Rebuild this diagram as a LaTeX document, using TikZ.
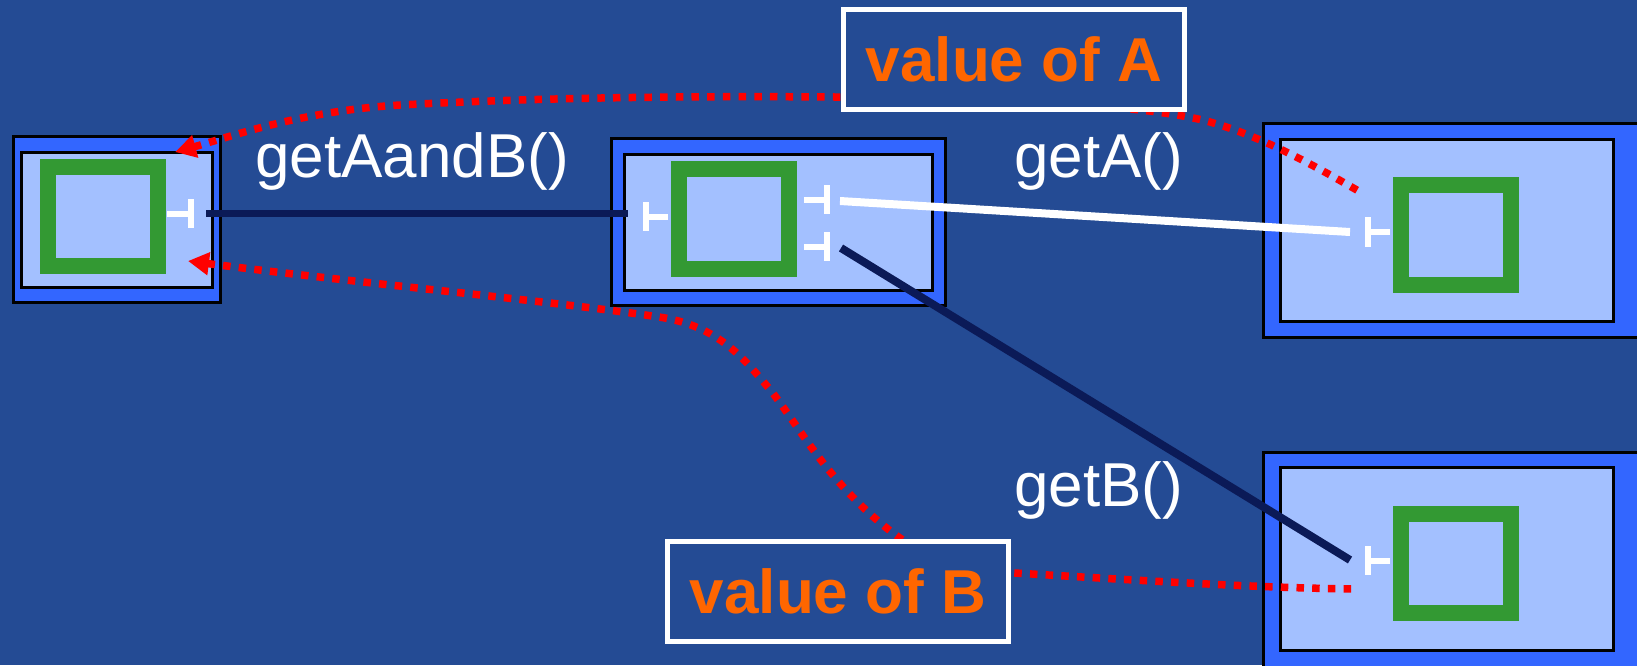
\documentclass[tikz,border=0pt]{standalone}
\usepackage{fontspec}
\setmainfont{Liberation Sans}
\usepackage{xcolor}
\usepackage{tikz}
\usetikzlibrary{arrows.meta}

\definecolor{slide}{RGB}{36,75,148}
\definecolor{objblue}{RGB}{51,102,255}
\definecolor{objlight}{RGB}{163,192,255}
\definecolor{cellgreen}{RGB}{51,153,51}
\definecolor{navy}{RGB}{11,26,87}
\definecolor{valorange}{RGB}{255,102,0}

\begin{document}
\begin{tikzpicture}[x=1pt,y=-1pt,
	outerbox/.style={draw=black,line width=3pt,fill=objblue,inner sep=0pt},
	innerbox/.style={draw=black,line width=3pt,fill=objlight,inner sep=0pt},
	cell/.style={draw=cellgreen,line width=16pt,fill=objlight,inner sep=0pt,minimum width=110pt,minimum height=100pt},
	port/.style={draw=white,line width=6pt},
	callline/.style={line width=8pt},
	flow/.style={draw=red,line width=7.5pt,dash pattern=on 7.5pt off 8.2pt,{Triangle[length=21pt,width=22pt]}-},
	valbox/.style={draw=white,line width=5pt,fill=slide,text=valorange,font=\bfseries\fontsize{62}{70}\selectfont,minimum width=341pt,minimum height=100pt,inner sep=0pt},
	method/.style={text=white,font=\fontsize{62}{72}\selectfont,inner sep=0pt,anchor=base west}]
		\useasboundingbox (0,0) rectangle (1637,665);
		\clip (0,0) rectangle (1637,665);
		\fill[slide] (0,0) rectangle (1637,665);
		%
		% client object
		\node[outerbox,minimum width=207pt,minimum height=166pt] (Lout) at (117,219.5) {};
		\node[innerbox,minimum width=191pt,minimum height=135pt] (Lin) at (117,220) {};
		\node[cell,minimum height=99.5pt] (Lcell) at (102.75,216.25) {};
		\draw[port] (167,214) -- (193,214) (190.5,199) -- (190.5,228);
		%
		% middle object
		\node[outerbox,minimum width=334pt,minimum height=167pt] (Mout) at (778.5,222) {};
		\node[innerbox,minimum width=308pt,minimum height=136pt] (Min) at (778.5,222.5) {};
		\node[cell] (Mcell) at (734.25,219) {};
		\draw[port] (643,216.5) -- (668,216.5) (646,202) -- (646,231);
		\draw[port] (804,200) -- (830,200) (826.5,185) -- (826.5,214);
		\draw[port] (804,247) -- (830,247) (826.5,232) -- (826.5,261);
		%
		% object A
		\node[outerbox,minimum width=382pt,minimum height=214pt] (Aout) at (1454.5,230.5) {};
		\node[innerbox,minimum width=333pt,minimum height=182pt] (Ain) at (1447,230.5) {};
		\node[cell] (Acell) at (1456,235) {};
		\draw[port] (1365,232) -- (1390,232) (1368,217) -- (1368,247);
		%
		% object B
		\node[outerbox,minimum width=382pt,minimum height=216pt] (Bout) at (1454.5,560.5) {};
		\node[innerbox,minimum width=333pt,minimum height=183pt] (Bin) at (1447,559) {};
		\node[cell,minimum height=99pt] (Bcell) at (1456,563.5) {};
		\draw[port] (1365,561) -- (1390,561) (1368,546) -- (1368,575);
		%
		% call lines
		\coordinate (Lport) at (206,213.5);
		\coordinate (Mport) at (628,213.5);
		\coordinate (MportA) at (840,201);
		\coordinate (Aport) at (1350,232);
		\coordinate (MportB) at (841,248);
		\coordinate (Bport) at (1350,560);
		\draw[callline,draw=navy,line width=7pt] (Lport) -- (Mport);
		\draw[callline,draw=white] (MportA) -- (Aport);
		\draw[callline,draw=navy] (MportB) -- (Bport);
		%
		% returned values
		\coordinate (LtipA) at (175,152);
		\coordinate (Aflow) at (1362,193);
		\coordinate (LtipB) at (188,261);
		\coordinate (Bflow) at (1358,589);
		\draw[flow] (LtipA) .. controls (230,137) and (300,111) .. (400,105)
			.. controls (550,97) and (700,96) .. (835,97)
			.. controls (1000,98) and (1150,105) .. (1210,122)
			.. controls (1260,136) and (1310,163) .. (Aflow);
		\draw[flow] (LtipB) .. controls (350,282) and (560,302) .. (659,317)
			.. controls (720,326) and (745,360) .. (772,392)
			.. controls (800,428) and (830,485) .. (893,533)
			.. controls (930,561) and (970,570) .. (1015,573)
			.. controls (1150,581) and (1260,588) .. (Bflow);
		%
		\node[valbox] (valA) at (1014,59.5) {value of A};
		\node[valbox] (valB) at (838,591.5) {value of B};
		%
		\node[method] (callAB) at (255,177) {getAandB()};
		\node[method] (callA) at (1014,177) {getA()};
		\node[method] (callB) at (1014,506) {getB()};
\end{tikzpicture}
\end{document}
